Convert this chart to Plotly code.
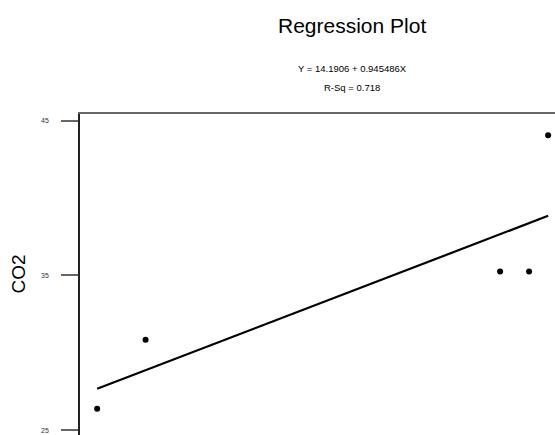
import plotly.graph_objects as go

# Data
x_vals = [14.25, 15.52, 24.82, 25.58, 26.08]
co2_vals = [26.37, 30.83, 35.25, 35.25, 44.06]

# Regression coefficients printed on the chart
intercept = 14.1906
slope = 0.945486
r_sq = 0.718

y_ticks = [25, 35, 45]
x_range = [13.80, 26.26]
y_range = [24.68, 45.43]

fit_x = sorted(x_vals)
fit_y = [intercept + slope * v for v in fit_x]

FONT = "Liberation Sans, Arial, sans-serif"

fig = go.Figure()
fig.add_trace(go.Scatter(x=fit_x, y=fit_y, mode="lines",
                         line=dict(color="black", width=2.2), hoverinfo="skip"))
fig.add_trace(go.Scatter(x=x_vals, y=co2_vals, mode="markers",
                         marker=dict(color="black", size=6)))

fig.update_layout(
    width=555, height=435,
    margin=dict(l=80, r=0, t=114, b=0, autoexpand=False),
    paper_bgcolor="white", plot_bgcolor="white",
    showlegend=False,
    font=dict(family=FONT, color="black"),
    xaxis=dict(range=x_range, side="top", showline=True, linecolor="#666666",
               linewidth=2, showticklabels=False, ticks="", showgrid=False,
               zeroline=False),
    yaxis=dict(range=y_range, tickvals=y_ticks, showline=True, linecolor="#222222",
               linewidth=1.5, ticks="outside", ticklen=17, tickwidth=2,
               tickcolor="#666666", tickfont=dict(size=7, family=FONT, color="#333333"),
               ticklabelstandoff=11, showgrid=False, zeroline=False),
    annotations=[
        dict(text="Regression Plot", xref="paper", yref="paper", x=0.573, y=1,
             yshift=89, xanchor="center", yanchor="middle", showarrow=False,
             font=dict(size=21, family=FONT)),
        dict(text=f"Y = {intercept} + {slope}X", xref="paper", yref="paper",
             x=0.573, y=1, yshift=46, xanchor="center", yanchor="middle",
             showarrow=False, font=dict(size=9.5, family=FONT)),
        dict(text=f"R-Sq = {r_sq}", xref="paper", yref="paper",
             x=0.573, y=1, yshift=27, xanchor="center", yanchor="middle",
             showarrow=False, font=dict(size=9.5, family=FONT)),
        dict(text="CO2", xref="paper", yref="paper", x=0, y=0.5, xshift=-62,
             yshift=0, textangle=-90, xanchor="center", yanchor="middle",
             showarrow=False, font=dict(size=19, family=FONT)),
    ],
)

fig.write_html("out.html", config={"displayModeBar": False},
               post_script="document.body.style.margin='0';document.body.style.overflow='hidden';")
